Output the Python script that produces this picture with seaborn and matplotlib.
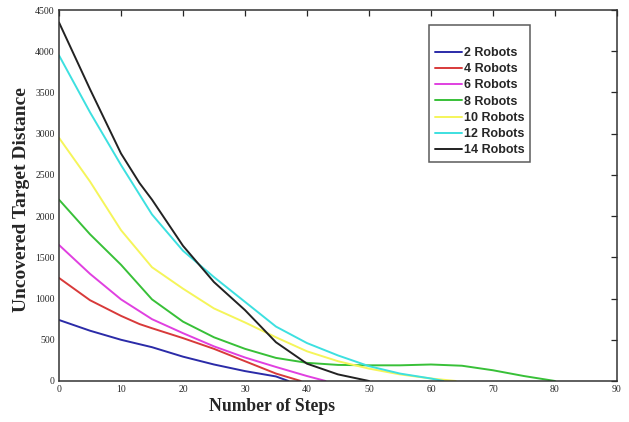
import matplotlib
matplotlib.use("Agg")
import matplotlib.pyplot as plt
import seaborn as sns
import pandas as pd

# ---- data ----
steps_2 = [0, 5, 10, 15, 20, 25, 30, 35, 37]
dist_2 = [740, 610, 500, 410, 295, 200, 120, 55, 0]

steps_4 = [0, 5, 10, 13, 15, 20, 25, 30, 35, 39]
dist_4 = [1250, 980, 790, 690, 640, 520, 390, 240, 90, 0]

steps_6 = [0, 5, 10, 15, 20, 25, 30, 35, 40, 43]
dist_6 = [1650, 1300, 990, 750, 580, 420, 285, 170, 60, 0]

steps_8 = [0, 5, 10, 15, 20, 25, 30, 35, 40, 45, 50, 55, 60, 65, 70, 75, 80]
dist_8 = [2200, 1780, 1410, 990, 720, 530, 390, 280, 220, 195, 190, 190, 200, 185, 130, 60, 0]

steps_10 = [0, 5, 10, 15, 20, 25, 30, 35, 40, 45, 50, 55, 60, 64]
dist_10 = [2950, 2420, 1830, 1380, 1120, 880, 710, 530, 360, 240, 150, 80, 30, 0]

steps_12 = [0, 5, 10, 15, 20, 25, 30, 35, 40, 45, 50, 55, 60, 62]
dist_12 = [3950, 3260, 2620, 2020, 1580, 1260, 960, 660, 460, 310, 180, 90, 30, 0]

steps_14 = [0, 5, 10, 13, 15, 20, 25, 30, 35, 40, 45, 50]
dist_14 = [4350, 3540, 2760, 2400, 2200, 1640, 1200, 860, 470, 210, 80, 0]

labels = ["2 Robots", "4 Robots", "6 Robots", "8 Robots", "10 Robots", "12 Robots", "14 Robots"]
colors = ["#2b2ba8", "#d83a3a", "#e040e0", "#38c038", "#f5f55a", "#3de0e0", "#222222"]

x_ticks = [0, 10, 20, 30, 40, 50, 60, 70, 80, 90]
y_ticks = [0, 500, 1000, 1500, 2000, 2500, 3000, 3500, 4000, 4500]

series = [(steps_2, dist_2), (steps_4, dist_4), (steps_6, dist_6), (steps_8, dist_8),
          (steps_10, dist_10), (steps_12, dist_12), (steps_14, dist_14)]
frames = []
for lab, (xs, ys) in zip(labels, series):
    frames.append(pd.DataFrame({"Steps": xs, "Distance": ys, "Team": lab}))
df = pd.concat(frames, ignore_index=True)

sns.set_style("white")
plt.rcParams["font.family"] = ["Liberation Serif", "DejaVu Serif"]

fig = plt.figure(figsize=(6.29, 4.22), dpi=100)
ax = fig.add_axes([0.0938, 0.0972, 0.887, 0.879])

sns.lineplot(data=df, x="Steps", y="Distance", hue="Team", hue_order=labels,
             palette=colors, linewidth=1.4, ax=ax, sort=False, estimator=None)

ax.set_xlim(0, 90)
ax.set_ylim(0, 4500)
ax.set_xticks(x_ticks)
ax.set_yticks(y_ticks)
ax.tick_params(direction="in", top=True, right=True, length=4, width=0.9,
               labelsize=7, pad=3)
for sp in ax.spines.values():
    sp.set_visible(True)
    sp.set_color("#333333")
    sp.set_linewidth(1.1)

ax.set_xlabel("Number of Steps", fontsize=12.7, fontweight="bold")
ax.set_ylabel("Uncovered Target Distance", fontsize=14, fontweight="bold")
ax.xaxis.set_label_coords(0.382, -0.047)
ax.yaxis.set_label_coords(-0.052, 0.49)

leg = ax.legend(loc="upper left", bbox_to_anchor=(0.663, 0.9596), borderaxespad=0,
                frameon=True, fancybox=False, edgecolor="#333333", handlelength=2.2,
                handletextpad=0.15, borderpad=0.45, labelspacing=0.34,
                title=" ", title_fontsize=9,
                prop={"family": "Liberation Sans", "weight": "bold", "size": 9})
leg.get_frame().set_linewidth(1.1)

fig.savefig("out.png", dpi=100)
